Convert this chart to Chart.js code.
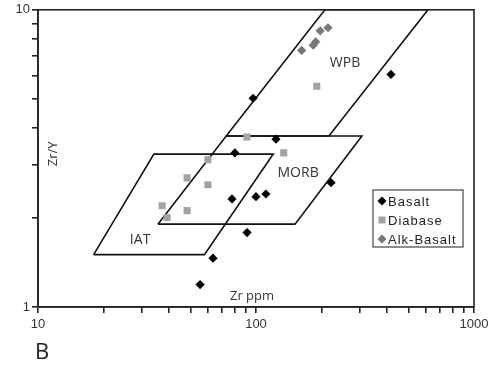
<!DOCTYPE html>
<html>
<head>
<meta charset="utf-8">
<script src="https://cdn.jsdelivr.net/npm/chart.js@4/dist/chart.umd.min.js"></script>
<style>
  html, body { margin: 0; padding: 0; background: #fff; }
  #wrap { width: 504px; height: 372px; }
</style>
</head>
<body>
<div id="wrap"><canvas id="c" width="504" height="372"></canvas></div>
<script>
// Sample data: Zr (ppm) vs Zr/Y
const basalt = [[97, 5.04], [416, 6.06], [123.5, 3.67], [80, 3.30], [77.6, 2.31], [100, 2.35],
  [111, 2.4], [221, 2.62], [91, 1.78], [63.5, 1.46], [55.4, 1.19]];
const diabase = [[60.2, 3.13], [48.3, 2.72], [60.2, 2.58], [37.1, 2.19], [48.3, 2.11], [39.1, 2.0],
  [90.9, 3.73], [134, 3.30], [190, 5.53]];
const alkBasalt = [[162, 7.3], [183, 7.6], [188, 7.8], [197, 8.5], [214, 8.7]];

// Discrimination fields (Pearce & Norry)
const iatField = [[18, 1.5], [58, 1.5], [120, 3.27], [34, 3.27], [18, 1.5]];
const morbField = [[35.5, 1.9], [151, 1.9], [306, 3.76], [73, 3.76], [35.5, 1.9]];
const wpbField = [[73, 3.76], [216, 3.76], [615, 10], [207, 10], [73, 3.76]];

const fieldLabels = [["WPB", 256, 6.6], ["MORB", 156, 2.83], ["IAT", 29.4, 1.675]];

const xTicks = [10, 20, 30, 40, 50, 60, 70, 80, 90, 100, 200, 300, 400, 500, 600, 700, 800, 900, 1000];
const yTicks = [1, 2, 3, 4, 5, 6, 7, 8, 9, 10];

const toXY = arr => arr.map(p => ({ x: p[0], y: p[1] }));

const fieldSet = pts => ({
  data: toXY(pts), showLine: true, borderColor: "#111", borderWidth: 1.6,
  pointRadius: 0, fill: false, tension: 0, order: 2
});

const overlay = {
  id: "overlay",
  afterDraw(chart) {
    const { ctx, chartArea: a, scales } = chart;
    ctx.save();
    // frame
    ctx.strokeStyle = "#222";
    ctx.lineWidth = 1.6;
    ctx.strokeRect(a.left, a.top, a.right - a.left, a.bottom - a.top);

    // field labels
    ctx.fillStyle = "#333";
    ctx.font = "14px 'Open Sans'";
    ctx.textAlign = "center";
    ctx.textBaseline = "middle";
    fieldLabels.forEach(l => {
      ctx.fillText(l[0], scales.x.getPixelForValue(l[1]), scales.y.getPixelForValue(l[2]));
    });

    // axis titles inside plot
    ctx.font = "13px 'Open Sans'";
    ctx.fillText("Zr ppm", (a.left + a.right) / 2 - 4, a.bottom - 11);
    ctx.save();
    ctx.translate(a.left + 15, a.top + 144);
    ctx.rotate(-Math.PI / 2);
    ctx.fillText("Zr/Y", 0, 0);
    ctx.restore();

    // panel letter
    ctx.font = "22px 'Open Sans'";
    ctx.fillStyle = "#222";
    ctx.textAlign = "left";
    ctx.fillText("B", a.left - 3, a.bottom + 46);

    // legend
    const lx = 373, ly = 190, lw = 90, lh = 57;
    ctx.fillStyle = "#fff";
    ctx.fillRect(lx, ly, lw, lh);
    ctx.strokeStyle = "#444";
    ctx.lineWidth = 1.2;
    ctx.strokeRect(lx, ly, lw, lh);
    ctx.font = "13px 'Liberation Sans'";
    ctx.textAlign = "left";
    const items = [["Basalt", "#000", "d"], ["Diabase", "#a3a3a3", "s"], ["Alk-Basalt", "#777", "d"]];
    items.forEach((it, i) => {
      const cy = ly + 11 + i * 19;
      const cx = lx + 9;
      ctx.fillStyle = it[1];
      ctx.beginPath();
      if (it[2] === "d") {
        ctx.moveTo(cx, cy - 4.5); ctx.lineTo(cx + 4.5, cy); ctx.lineTo(cx, cy + 4.5); ctx.lineTo(cx - 4.5, cy);
      } else {
        ctx.rect(cx - 3.5, cy - 3.5, 7, 7);
      }
      ctx.closePath();
      ctx.fill();
      ctx.fillStyle = "#222";
      ctx.letterSpacing = "1px";
      ctx.fillText(it[0], lx + 15, cy + 1);
      ctx.letterSpacing = "0px";
    });
    ctx.restore();
  }
};

new Chart(document.getElementById("c"), {
  type: "scatter",
  data: {
    datasets: [
      fieldSet(iatField),
      fieldSet(morbField),
      fieldSet(wpbField),
      { label: "Basalt", data: toXY(basalt), pointStyle: "rectRot", pointRadius: 4.6,
        backgroundColor: "#000", borderWidth: 0, order: 0 },
      { label: "Diabase", data: toXY(diabase), pointStyle: "rect", pointRadius: 5,
        backgroundColor: "#a3a3a3", borderWidth: 0, order: 1 },
      { label: "Alk-Basalt", data: toXY(alkBasalt), pointStyle: "rectRot", pointRadius: 4.6,
        backgroundColor: "#777", borderWidth: 0, order: 0 }
    ]
  },
  options: {
    responsive: false,
    animation: false,
    layout: { padding: { top: 8, right: 30, left: 0, bottom: 0 } },
    plugins: { legend: { display: false }, tooltip: { enabled: false } },
    scales: {
      x: {
        type: "logarithmic", min: 10, max: 1000,
        afterBuildTicks: s => { s.ticks = xTicks.map(v => ({ value: v })); },
        afterFit: s => { s.height = 65; },
        ticks: {
          autoSkip: false, maxRotation: 0, padding: 4, color: "#333",
          font: { family: "'Liberation Sans'", size: 13 },
          callback: v => ([10, 100, 1000].includes(v) ? String(v) : "")
        },
        grid: { drawOnChartArea: false, drawTicks: true, tickLength: 6, color: "#222", lineWidth: 1.6 },
        border: { color: "#222", width: 1.6 }
      },
      y: {
        type: "logarithmic", min: 1, max: 10,
        afterBuildTicks: s => { s.ticks = yTicks.map(v => ({ value: v })); },
        afterFit: s => { s.width = 38; },
        ticks: {
          autoSkip: false, padding: 2, color: "#333",
          font: { family: "'Liberation Sans'", size: 13 },
          callback: v => ([1, 10].includes(v) ? String(v) : "")
        },
        grid: { drawOnChartArea: false, drawTicks: true, tickLength: 6, color: "#222", lineWidth: 1.6 },
        border: { color: "#222", width: 1.6 }
      }
    }
  },
  plugins: [overlay]
});
</script>
</body>
</html>
